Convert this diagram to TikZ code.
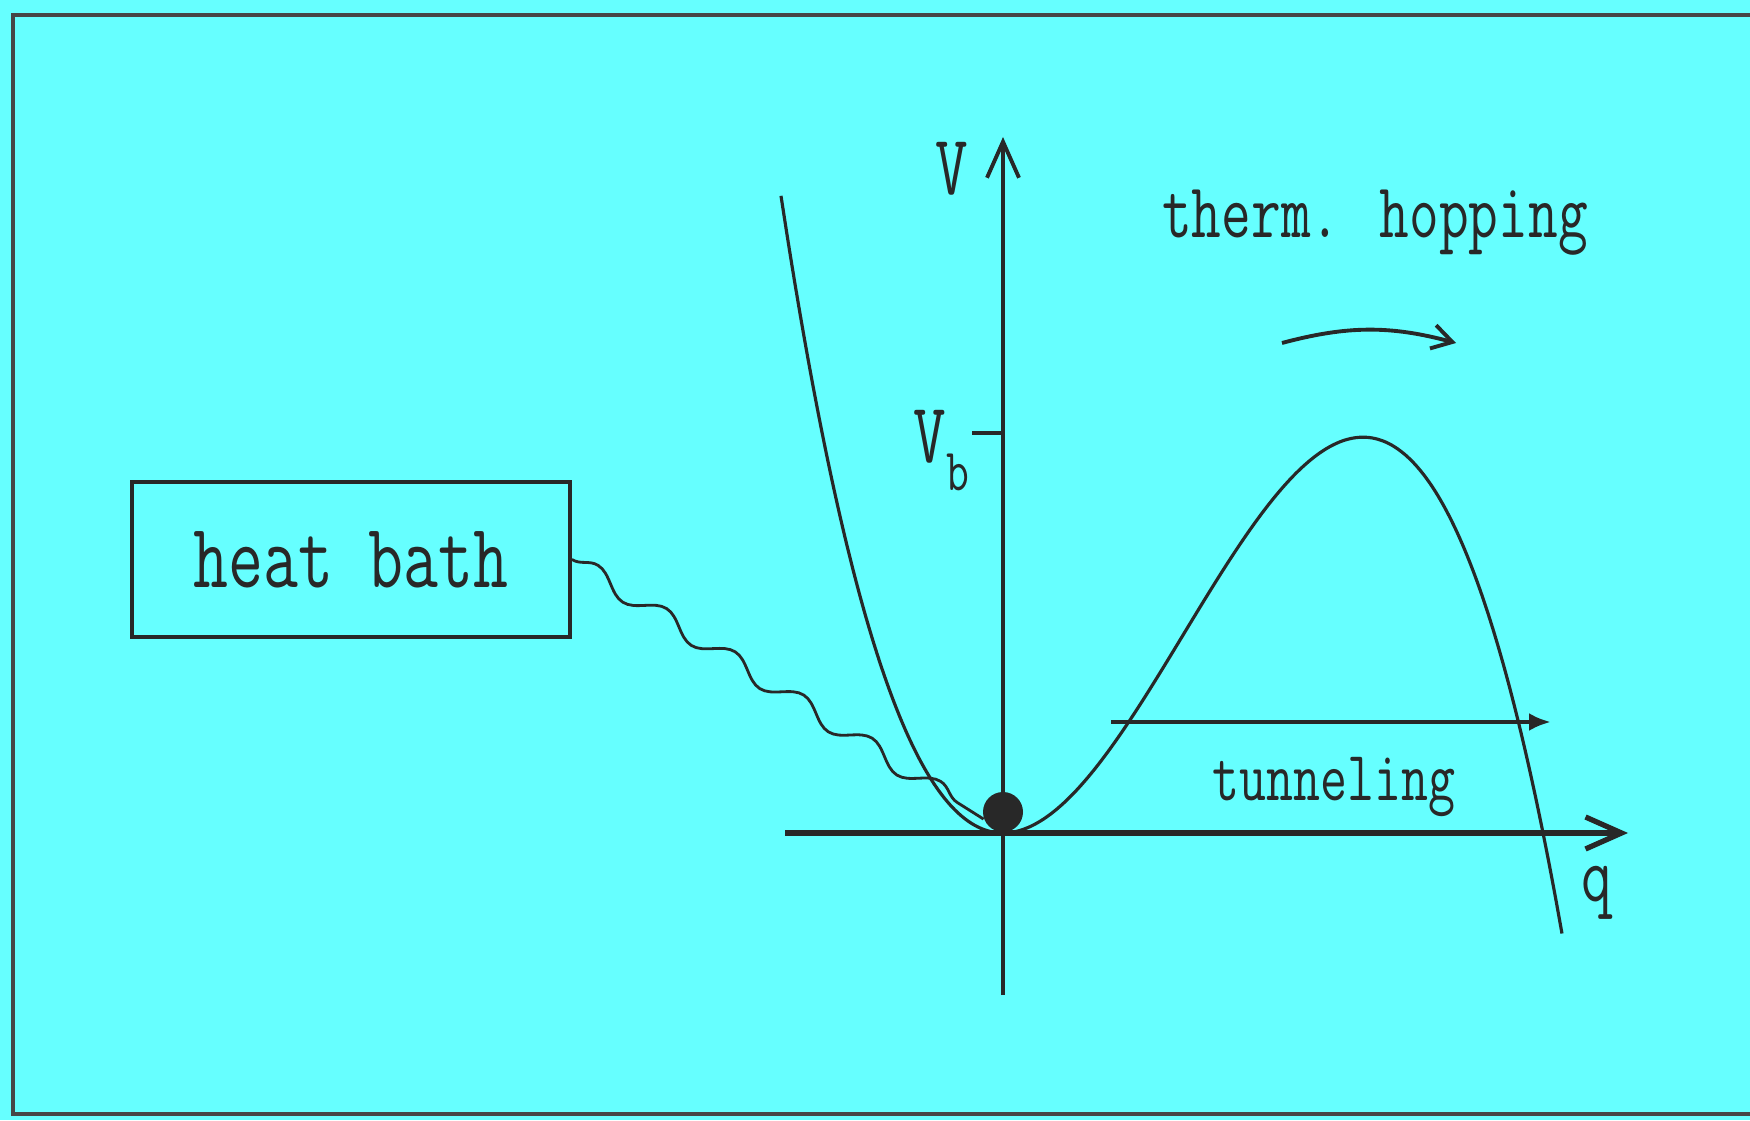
\documentclass[tikz,border=0pt]{standalone}
\usepackage{fontspec}
\usepackage{tikz}
\usetikzlibrary{positioning,arrows.meta,decorations.pathmorphing}
\definecolor{bgcyan}{RGB}{102,255,255}
\definecolor{inkc}{RGB}{40,40,40}
\definecolor{framec}{RGB}{70,70,70}
\newcommand{\vtall}[1]{\scalebox{1}[1.35]{#1}}

\begin{document}
\begin{tikzpicture}[
  axis/.style={draw=inkc, line width=1.1pt, -{Straight Barb[length=3.6mm,width=3.2mm]}},
  curve/.style={draw=inkc, line width=0.9pt},
  lbl/.style={font=\ttfamily, text=inkc, inner sep=0pt},
  wave/.style={draw=inkc, line width=0.8pt, decorate, decoration={snake, segment length=8.1mm, amplitude=0.9mm}},
  tun/.style={draw=inkc, line width=1.3pt, -{Latex[length=2.2mm,width=1.8mm]}},
  hop/.style={draw=inkc, line width=1.1pt, -{Straight Barb[length=2mm,width=2.4mm]}},
  bathbox/.style={draw=inkc, line width=1.1pt, minimum width=4.38cm, minimum height=1.55cm, inner sep=0pt},
]
\def\qa{0.9162}   % quadratic coefficient
\def\qb{0.16967}  % cubic coefficient

% ---- paper ----
\fill[bgcyan] (-10.03,-2.87) rectangle (7.47,8.33);
\useasboundingbox (-10.03,-2.87) rectangle (7.47,8.33);
\draw[framec, line width=1.1pt] (7.47,8.18) -- (-9.90,8.18) -- (-9.90,-2.81) -- (7.47,-2.81);

% ---- axes ----
\coordinate (qlo) at (-2.18,0);
\coordinate (qhi) at (6.25,0);
\coordinate (vlo) at (0,-1.62);
\coordinate (vhi) at (0,6.96);
\coordinate (vb) at (0,4.0);
\draw[axis, line width=1.5pt] (qlo) -- (qhi);
\draw[axis] (vlo) -- (vhi);
\draw[curve] (vb) -- ++(-0.31,0);

\node[lbl, font=\ttfamily\fontsize{18}{20}\selectfont, anchor=base] (vlab) at (-0.51,6.38) {\vtall{V}};
\node[lbl, font=\ttfamily\fontsize{18}{20}\selectfont, anchor=base east] (vblab) at (-0.33,3.70)
  {\vtall{V\raisebox{-5.7pt}{\fontsize{12.6}{13}\selectfont b}}};
\node[lbl, font=\ttfamily\fontsize{17}{19}\selectfont, anchor=base] (qlab) at (5.94,-0.68) {\vtall{q}};

% ---- potential ----
\draw[curve] plot[domain=-2.22:5.59, samples=120, smooth] (\x, {\qa*\x*\x - \qb*\x*\x*\x});
\node[circle, fill=inkc, inner sep=0pt, minimum size=4mm] (ball) at (0,0.21) {};

% ---- processes ----
\coordinate (tunL) at (1.08,1.11);
\coordinate (tunR) at (5.48,1.11);
\draw[tun] (tunL) -- (tunR);
\node[lbl, font=\ttfamily\fontsize{14.9}{16}\selectfont, anchor=base] (tunlab) at (3.31,0.33) {\vtall{tunneling}};

\coordinate (hopL) at (2.79,4.90);
\coordinate (hopR) at (4.53,4.90);
\draw[hop] (hopL) to[bend left=15] (hopR);
\node[lbl, font=\ttfamily\fontsize{16.4}{18}\selectfont, anchor=base] (hoplab) at (3.72,5.95) {\vtall{therm. hopping}};

% ---- bath ----
\node[bathbox, font=\ttfamily\fontsize{19.3}{21}\selectfont, text=inkc] (bath) at (-6.52,2.735) {\vtall{heat bath}};
\draw[wave] (bath.east) -- (ball.200);

\end{tikzpicture}
\end{document}
